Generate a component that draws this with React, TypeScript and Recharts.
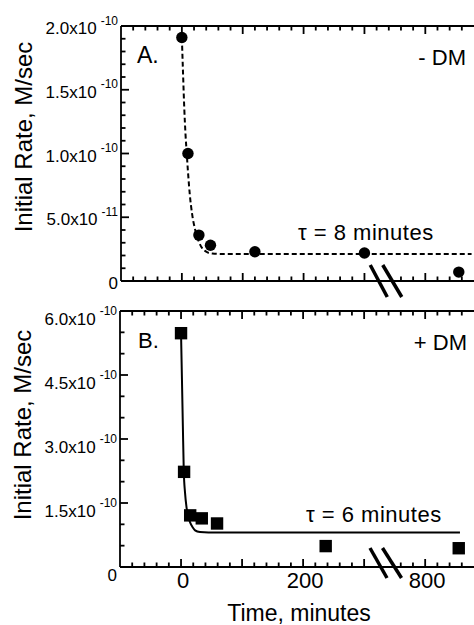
import React from "react";
import {
  ComposedChart,
  Line,
  Scatter,
  XAxis,
  YAxis,
  ReferenceLine,
  ReferenceDot,
} from "recharts";

const FONT = "'Liberation Sans', Arial, Helvetica, sans-serif";

// ---- broken time axis: real minutes beyond the break are shifted left ----
const BREAK_SHIFT = 400;
const BREAK_AT = 335; // display position of the "//" break mark
const toDisplay = (t: number) => (t > 540 ? t - BREAK_SHIFT : t);

// x tick labels (real minutes)
const xTickValues = [0, 200, 800];
const xTickLabels = ["0", "200", "800"];

// ---- Panel A (- DM) ----
const aTimes = [0, 10, 28, 47, 120, 300, 855];
const aRates = [1.91e-10, 1.0e-10, 3.6e-11, 2.8e-11, 2.3e-11, 2.2e-11, 7e-12];
const aFitTimes = [0, 2, 4, 6, 8, 10, 13, 17, 22, 27, 33, 40, 50, 70, 876];
const aFitRates = [
  1.91e-10, 1.62e-10, 1.35e-10, 1.15e-10, 1.0e-10, 8.6e-11, 6.8e-11, 5.2e-11,
  4.0e-11, 3.2e-11, 2.6e-11, 2.3e-11, 2.15e-11, 2.12e-11, 2.12e-11,
];
const aYTicks = [0, 5e-11, 1e-10, 1.5e-10, 2e-10];
const aYTickMantissa = ["0", "5.0x10", "1.0x10", "1.5x10", "2.0x10"];
const aYTickExponent = ["", "-11", "-10", "-10", "-10"];

// ---- Panel B (+ DM) ----
const bTimes = [0, 5, 15, 34, 59, 237, 855];
const bRates = [5.48e-10, 2.23e-10, 1.21e-10, 1.14e-10, 1.02e-10, 4.9e-11, 4.4e-11];
const bFitTimes = [0, 1.5, 3, 4.5, 6.5, 9, 12, 15, 19, 23, 31, 45, 857];
const bFitRates = [
  5.48e-10, 4.4e-10, 3.3e-10, 2.25e-10, 1.75e-10, 1.4e-10, 1.17e-10, 1.04e-10,
  9.3e-11, 8.6e-11, 8.2e-11, 8.1e-11, 8.1e-11,
];
const bYTicks = [0, 1.5e-10, 3e-10, 4.5e-10, 6e-10];
const bYTickMantissa = ["0", "1.5x10", "3.0x10", "4.5x10", "6.0x10"];
const bYTickExponent = ["", "-10", "-10", "-10", "-10"];

// ---- derived tables ----
const toRows = (ts: number[], vs: number[]) =>
  ts.map((t, i) => ({ x: toDisplay(t), y: vs[i] }));
const aPoints = toRows(aTimes, aRates);
const aFit = toRows(aFitTimes, aFitRates);
const bPoints = toRows(bTimes, bRates);
const bFit = toRows(bFitTimes, bFitRates);

const X_DOMAIN: [number, number] = [-100, 480];
const xMinorTicks: number[] = [];
for (let v = -80; v <= 460; v += 20) xMinorTicks.push(v);

const makeYMinor = (step: number, count: number) => {
  const out: number[] = [];
  for (let i = 0; i <= count; i++) out.push(Number((i * step).toPrecision(6)));
  return out;
};
const aYMinor = makeYMinor(1e-11, 20);
const bYMinor = makeYMinor(5e-11, 12);

const near = (a: number, b: number) => Math.abs(a - b) < 1e-15;
const TICK_W = 1.8;
const TICK_C = "#000";

const makeXTick = (plotH: number, showLabels: boolean) => (props: any) => {
  const x = Number(props.x);
  const y = Number(props.y);
  const v = Number(props.payload.value);
  const major = v % 100 === 0;
  const len = major ? 8 : 4.5;
  const hiddenByBreak = v > 310 && v < 350;
  const idx = xTickValues.findIndex((t) => toDisplay(t) === v);
  const top = y - plotH;
  let d = `M${x},${top}L${x},${top + len}`;
  if (!hiddenByBreak) d += `M${x},${y}L${x},${y - len}`;
  return (
    <g>
      <path d={d} stroke={TICK_C} strokeWidth={TICK_W} fill="none" />
      {showLabels && idx >= 0 && (
        <text x={x + 2} y={y + 21} textAnchor="middle" fontSize={22} fontFamily={FONT} fill="#000">
          {xTickLabels[idx]}
        </text>
      )}
    </g>
  );
};

const makeYTick =
  (labels: number[], mant: string[], exp: string[], baseDy: number) => (props: any) => {
    const x = Number(props.x);
    const y = Number(props.y);
    const v = Number(props.payload.value);
    const idx = labels.findIndex((t) => near(t, v));
    const len = idx >= 0 ? 8 : 4.5;
    return (
      <g>
        <path d={`M${x},${y}L${x + len},${y}`} stroke={TICK_C} strokeWidth={TICK_W} fill="none" />
        {idx >= 0 && (
          <text x={x - 3} y={y + baseDy} textAnchor="end" fontSize={17} fontFamily={FONT} fill="#000">
            <tspan>{mant[idx]}</tspan>
            {exp[idx] && (
              <tspan dx={4} dy={-9.5} fontSize={12}>
                {exp[idx]}
              </tspan>
            )}
          </text>
        )}
      </g>
    );
  };

const makeBreak = (up: number, down: number) => (props: any) => {
  const cx = Number(props.cx);
  const cy = Number(props.cy);
  return (
    <g>
      <line x1={cx - 15.5} y1={cy - up} x2={cx + 1.5} y2={cy + down} stroke="#000" strokeWidth={3.5} />
      <line x1={cx - 3} y1={cy - up} x2={cx + 16} y2={cy + down} stroke="#000" strokeWidth={3.5} />
    </g>
  );
};

const circleShape = (p: any) => <circle cx={p.cx} cy={p.cy} r={5.7} fill="#000" />;
const squareShape = (p: any) => (
  <rect x={p.cx - 6.2} y={p.cy - 6.2} width={12.4} height={12.4} fill="#000" />
);

const axisLine = { stroke: "#000", strokeWidth: 1.8 };

function PanelA() {
  const plotH = 255;
  return (
    <ComposedChart width={474} height={300} margin={{ top: 26, right: 0, bottom: 0, left: 0 }}>
      <XAxis
        dataKey="x"
        type="number"
        domain={X_DOMAIN}
        allowDataOverflow
        ticks={xMinorTicks}
        interval={0}
        height={19}
        tickSize={0}
        tickMargin={0}
        tickLine={false}
        axisLine={axisLine}
        tick={makeXTick(plotH, false)}
      />
      <YAxis
        dataKey="y"
        type="number"
        domain={[0, 2e-10]}
        allowDataOverflow
        ticks={aYMinor}
        interval={0}
        width={121}
        tickSize={0}
        tickMargin={0}
        tickLine={false}
        axisLine={axisLine}
        tick={makeYTick(aYTicks, aYTickMantissa, aYTickExponent, 8)}
      />
      <ReferenceLine y={2e-10} stroke="#000" strokeWidth={1.8} />
      <Line
        data={aFit}
        dataKey="y"
        type="monotone"
        stroke="#000"
        strokeWidth={2}
        strokeDasharray="5 3"
        dot={false}
        isAnimationActive={false}
      />
      <Scatter data={aPoints} dataKey="y" shape={circleShape} isAnimationActive={false} />
      <ReferenceDot x={BREAK_AT} y={0} r={1} ifOverflow="visible" shape={makeBreak(16, 16)} />
    </ComposedChart>
  );
}

function PanelB() {
  const plotH = 256;
  return (
    <ComposedChart width={474} height={335} margin={{ top: 21, right: 0, bottom: 0, left: 0 }}>
      <XAxis
        dataKey="x"
        type="number"
        domain={X_DOMAIN}
        allowDataOverflow
        ticks={xMinorTicks}
        interval={0}
        height={58}
        tickSize={0}
        tickMargin={0}
        tickLine={false}
        axisLine={axisLine}
        tick={makeXTick(plotH, true)}
      />
      <YAxis
        dataKey="y"
        type="number"
        domain={[0, 6e-10]}
        allowDataOverflow
        ticks={bYMinor}
        interval={0}
        width={120}
        tickSize={0}
        tickMargin={0}
        tickLine={false}
        axisLine={axisLine}
        tick={makeYTick(bYTicks, bYTickMantissa, bYTickExponent, 13.5)}
      />
      <ReferenceLine y={6e-10} stroke="#000" strokeWidth={1.8} />
      <Line
        data={bFit}
        dataKey="y"
        type="monotone"
        stroke="#000"
        strokeWidth={2}
        dot={false}
        isAnimationActive={false}
      />
      <Scatter data={bPoints} dataKey="y" shape={squareShape} isAnimationActive={false} />
      <ReferenceDot x={BREAK_AT} y={0} r={1} ifOverflow="visible" shape={makeBreak(19, 11)} />
    </ComposedChart>
  );
}

export default function App() {
  return (
    <div
      style={{
        position: "absolute",
        left: 0,
        top: 0,
        width: 474,
        height: 625,
        background: "#fff",
        overflow: "hidden",
      }}
    >
      <div style={{ position: "absolute", left: 0, top: 0 }}>
        <PanelA />
      </div>
      <div style={{ position: "absolute", left: 0, top: 290 }}>
        <PanelB />
      </div>
      <svg
        width={474}
        height={625}
        style={{ position: "absolute", left: 0, top: 0, pointerEvents: "none" }}
        fontFamily={FONT}
      >
        <text transform="translate(32,137) rotate(-90)" textAnchor="middle" fontSize={24} fill="#000">
          Initial Rate, M/sec
        </text>
        <text transform="translate(31,425) rotate(-90)" textAnchor="middle" fontSize={24} fill="#000">
          Initial Rate, M/sec
        </text>
        <text x={299} y={621} textAnchor="middle" fontSize={23} fill="#000">
          Time, minutes
        </text>
        <text x={137} y={63} fontSize={23} fill="#000">A.</text>
        <text x={466} y={65} textAnchor="end" fontSize={22} fill="#000">- DM</text>
        <text x={298} y={240} fontSize={22} letterSpacing={0.5} fill="#000">τ = 8 minutes</text>
        <text x={138} y={348} fontSize={22} fill="#000">B.</text>
        <text x={467} y={350} textAnchor="end" fontSize={22} fill="#000">+ DM</text>
        <text x={306} y={522} fontSize={22} letterSpacing={0.5} fill="#000">τ = 6 minutes</text>
      </svg>
    </div>
  );
}
